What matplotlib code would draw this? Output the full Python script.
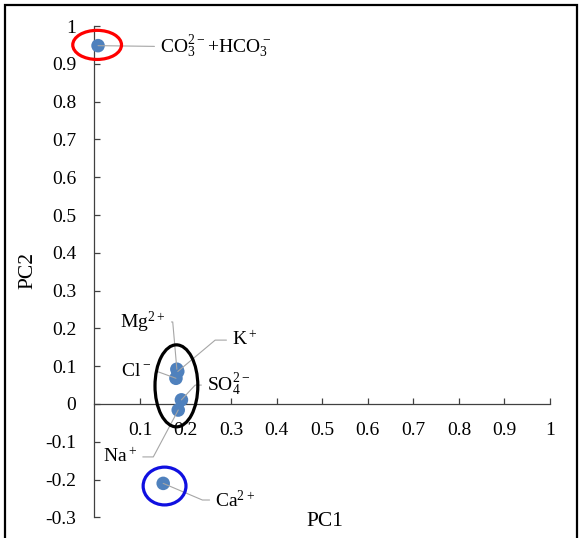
import matplotlib
matplotlib.use("Agg")
import matplotlib.pyplot as plt
from matplotlib.patches import Ellipse, Rectangle

plt.rcParams['font.family'] = ['Liberation Serif', 'DejaVu Serif']
plt.rcParams['mathtext.default'] = 'regular'

# Componentes principais (cargas PC1 x PC2)
labels = [r'CO$_3^{2-}$+HCO$_3^-$', r'Mg$^{2+}$', r'K$^+$', r'Cl$^-$',
          r'SO$_4^{2-}$', r'Na$^+$', r'Ca$^{2+}$']
pc1 = [0.008, 0.181, 0.183, 0.179, 0.191, 0.184, 0.151]
pc2 = [0.948, 0.092, 0.086, 0.068, 0.011, -0.016, -0.210]

xticks = [0.1, 0.2, 0.3, 0.4, 0.5, 0.6, 0.7, 0.8, 0.9, 1.0]
xticklabels = ['0.1', '0.2', '0.3', '0.4', '0.5', '0.6', '0.7', '0.8', '0.9', '1']
yticks = [-0.3, -0.2, -0.1, 0.0, 0.1, 0.2, 0.3, 0.4, 0.5, 0.6, 0.7, 0.8, 0.9, 1.0]
yticklabels = ['-0.3', '-0.2', '-0.1', '0', '0.1', '0.2', '0.3', '0.4', '0.5',
               '0.6', '0.7', '0.8', '0.9', '1']

# posicao dos rotulos (x, y, alinhamento, angulo da linha guia)
label_pos = [(0.144, 0.944, 'left', None),
             (0.157, 0.217, 'right', 95),
             (0.302, 0.169, 'left', 40),
             (0.124, 0.085, 'right', 160),
             (0.247, 0.050, 'left', 47),
             (0.094, -0.140, 'right', 62),
             (0.265, -0.254, 'left', -23)]

# elipses de destaque (centro x, centro y, largura, altura, cor)
ellipses = [(0.006, 0.950, 0.107, 0.077, 'red'),
            (0.180, 0.048, 0.094, 0.217, 'black'),
            (0.154, -0.217, 0.094, 0.100, '#1010e0')]

fig = plt.figure(figsize=(5.82, 5.38), dpi=100)
ax = fig.add_axes([94.4 / 582, 1 - 517.4 / 538, 455.6 / 582, 491.4 / 538])

ax.scatter(pc1, pc2, s=95, color='#4f81bd', zorder=3, edgecolors='none', clip_on=False)

for (txt, x, y, (lx, ly, ha, ang)) in zip(labels, pc1, pc2, label_pos):
    if ang is None:
        conn = 'arc3'
    else:
        conn = f'angle,angleA=0,angleB={ang},rad=0'
    ax.annotate(txt, xy=(x, y), xytext=(lx, ly), ha=ha, va='center', fontsize=14,
                arrowprops=dict(arrowstyle='-', color='#a6a6a6', lw=0.8,
                                shrinkA=2, shrinkB=0, connectionstyle=conn))

for (cx, cy, w, h, c) in ellipses:
    ax.add_patch(Ellipse((cx, cy), w, h, fill=False, edgecolor=c, lw=2.3,
                         zorder=4, clip_on=False))

ax.set_xlim(0, 1)
ax.set_ylim(-0.3, 1)
ax.spines['left'].set_position(('data', 0))
ax.spines['bottom'].set_position(('data', 0))
ax.spines['top'].set_visible(False)
ax.spines['right'].set_visible(False)
for s in ('left', 'bottom'):
    ax.spines[s].set_color('#404040')
    ax.spines[s].set_linewidth(0.9)

ax.set_xticks(xticks)
ax.set_xticklabels(xticklabels)
ax.set_yticks(yticks)
ax.set_yticklabels(yticklabels)
ax.tick_params(direction='in', length=4, width=0.9, color='#404040',
               labelsize=14, pad=13)
ax.patch.set_visible(False)

ax.set_xlabel('PC1', fontsize=15.5)
ax.xaxis.set_label_coords(0.506, 0.010)
ax.set_ylabel('PC2', fontsize=15.5)
ax.yaxis.set_label_coords(-0.124, 0.503)

# moldura da figura
fig.patches.append(Rectangle((4.5 / 582, -0.05), 572.5 / 582, 1.05 - 5 / 538,
                             fill=False, lw=1.6, edgecolor='black',
                             transform=fig.transFigure))

plt.savefig('out.png', dpi=100)
